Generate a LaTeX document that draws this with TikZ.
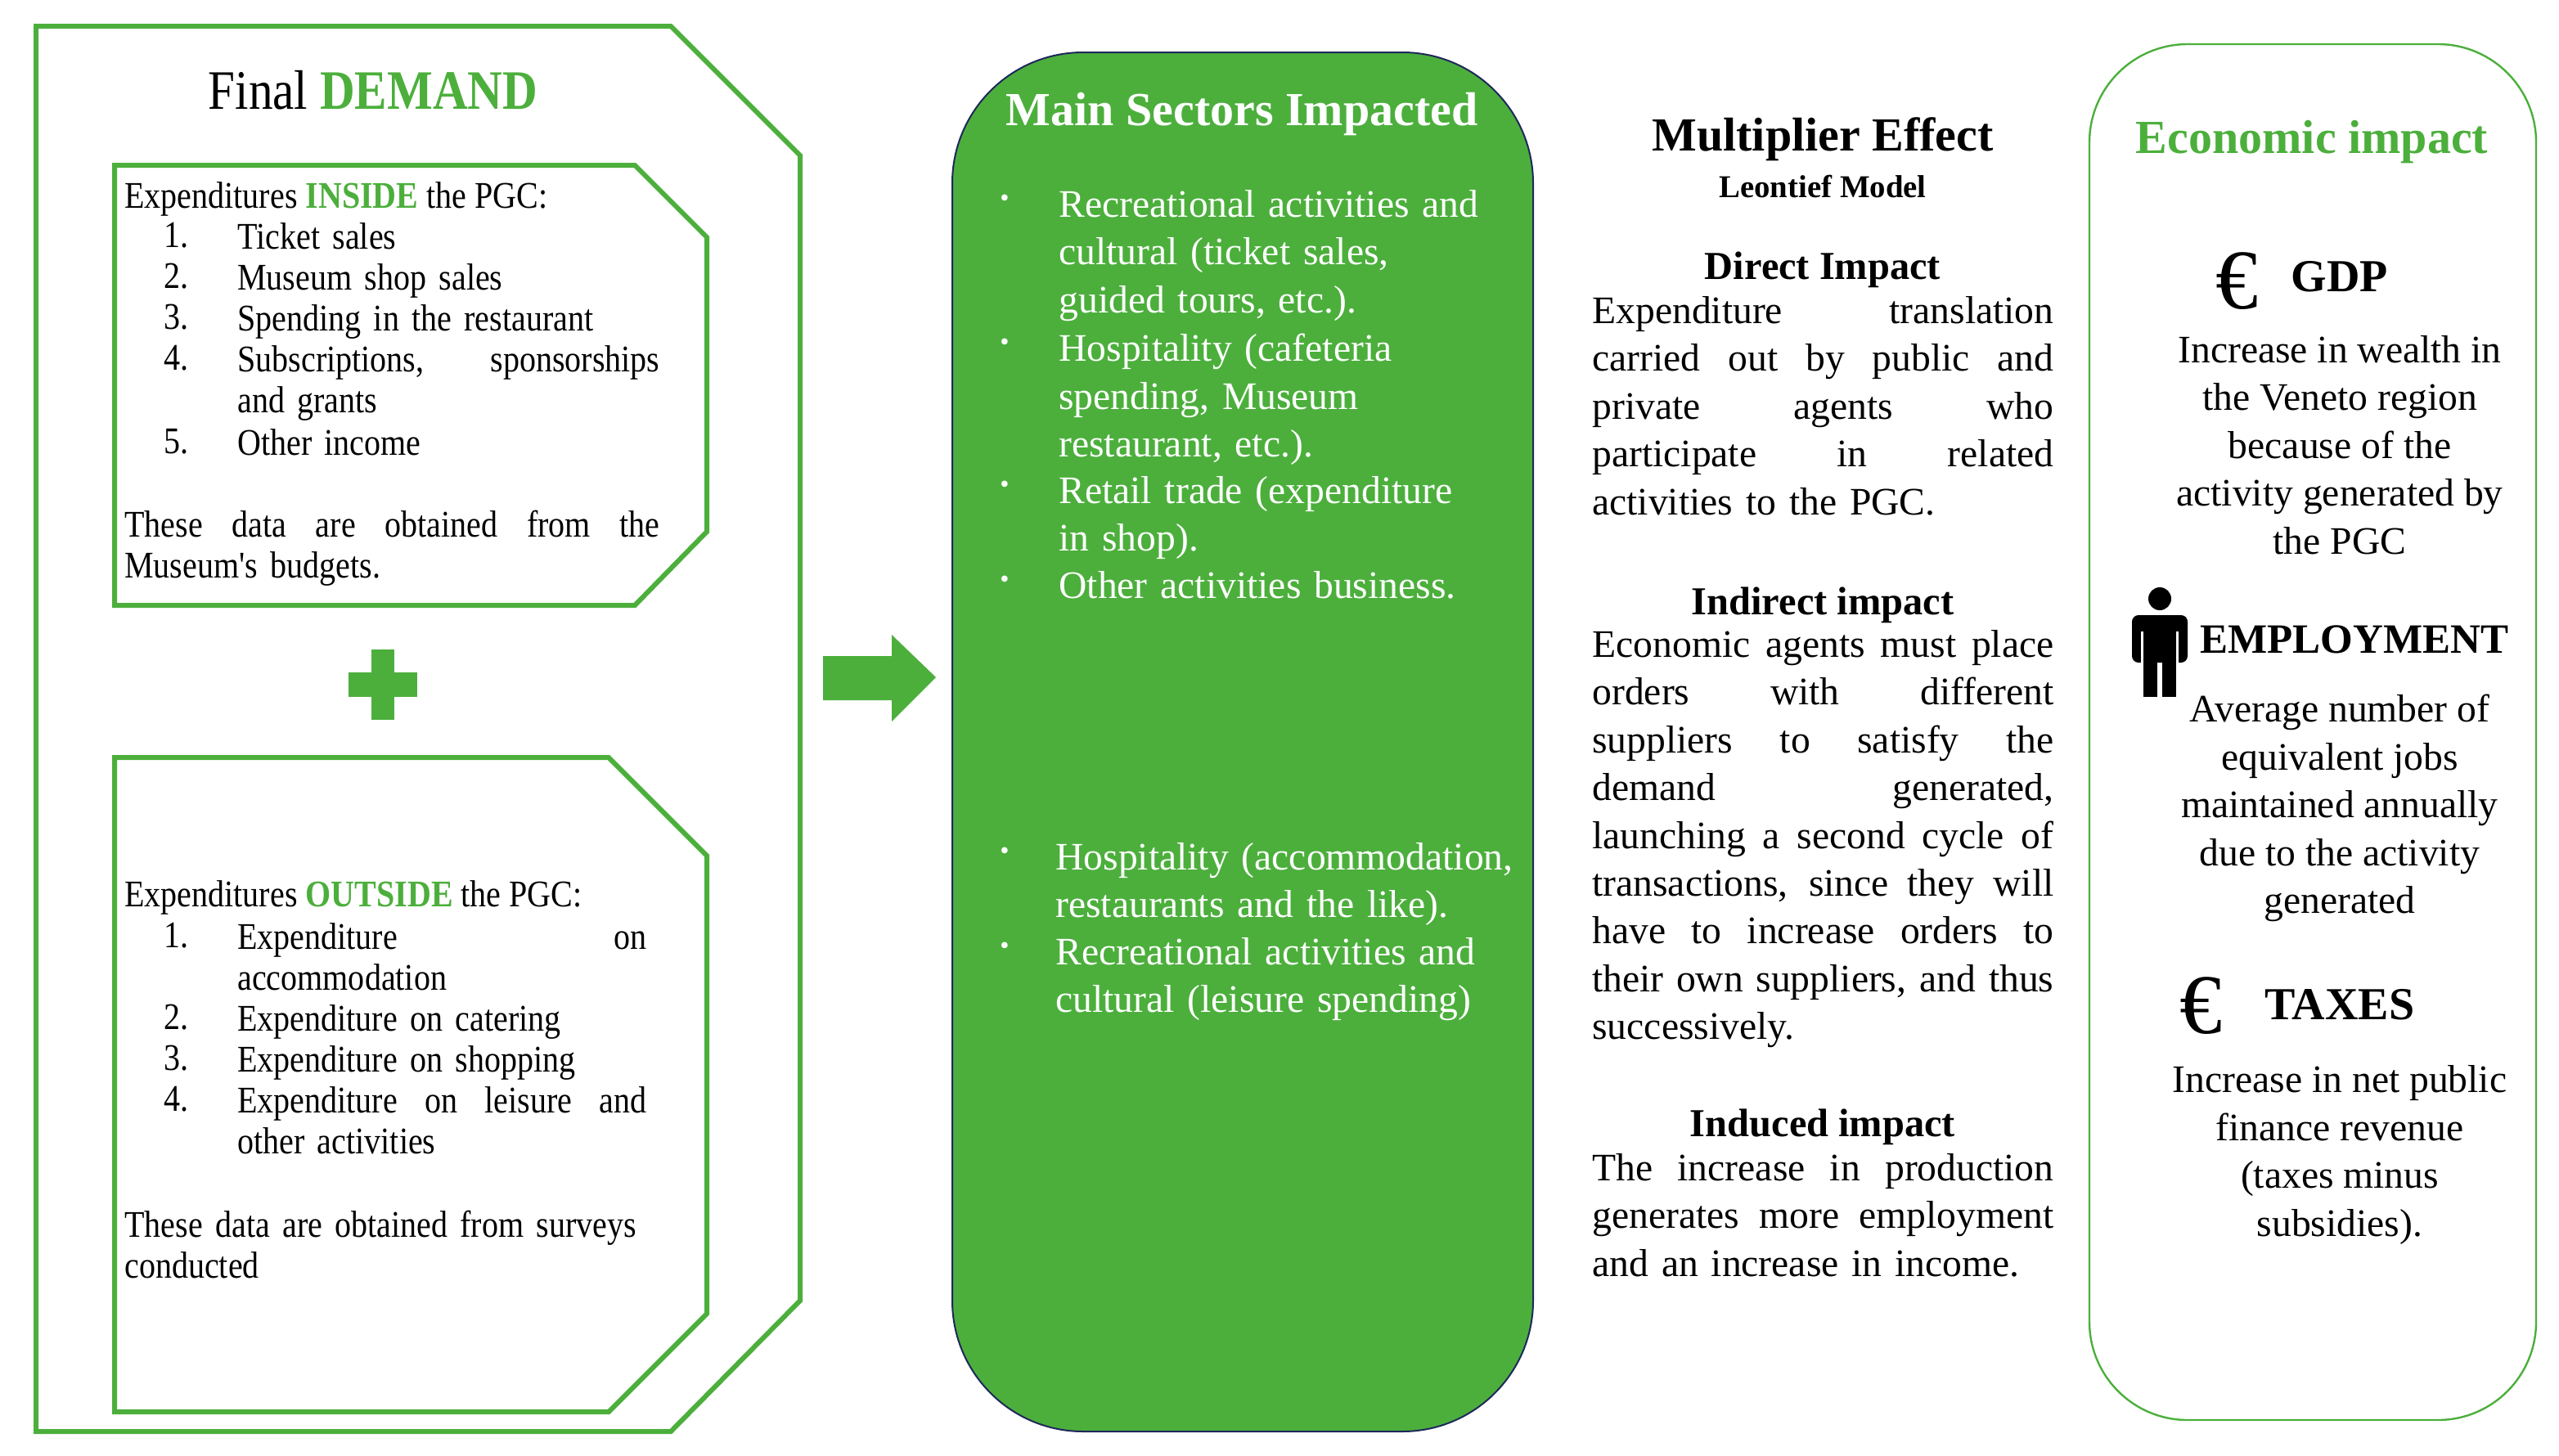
\documentclass[tikz,border=0pt]{standalone}
\usepackage{fontspec}
\setmainfont{Liberation Serif}
\newfontfamily\condf[FakeStretch=0.87]{Liberation Serif}
\definecolor{gr}{RGB}{76,175,60}
\definecolor{navy}{RGB}{30,40,90}
\newcommand{\jw}[2]{{\spaceskip=0.25em plus 1fil\makebox[#1][s]{#2}}\\}
\newcommand{\jl}[1]{\jw{282pt}{#1}}
\tikzset{
 gl/.style={draw=gr,line width=3pt},
 body/.style={inner sep=0pt,anchor=north west,align=left,font=\fontsize{23.8}{29.2}\selectfont},
 lb/.style={inner sep=0pt,anchor=north west,align=left,font=\condf\fontsize{23}{25}\selectfont},
 wb/.style={inner sep=0pt,anchor=north west,align=left,text=white,font=\fontsize{23.8}{29.2}\selectfont,text width=290pt},
 ct/.style={inner sep=0pt,align=center,font=\fontsize{23.8}{29.2}\selectfont},
 hd/.style={inner sep=0pt,font=\bfseries\fontsize{24.2}{29}\selectfont},
}
\begin{document}
\begin{tikzpicture}[x=1pt,y=-1pt]
\useasboundingbox (0,0) rectangle (1564,889.5);
% left shapes
\draw[gl] (22,16) -- (410,16) -- (489,95) -- (489,795) -- (410,875) -- (22,875) -- cycle;
\draw[gl] (70,101) -- (388,101) -- (432,145) -- (432,325) -- (388,370) -- (70,370) -- cycle;
\draw[gl] (70,463) -- (372,463) -- (432,523) -- (432,803) -- (372,863) -- (70,863) -- cycle;
\fill[gr] (227,397) rectangle (241,440);
\fill[gr] (213,411) rectangle (255,426);
\node[inner sep=0pt,font=\condf\fontsize{34}{36}\selectfont] (fd) at (228,55) {Final \textcolor{gr}{\textbf{DEMAND}}};
\node[lb] (in) at (76,111) {Expenditures \textcolor{gr}{\textbf{INSIDE}} the PGC:};
\foreach \n/\t/\y in {1/Ticket sales/136,2/Museum shop sales/161,3/Spending in the restaurant/186,4/{Subscriptions,\hfill sponsorships\\and grants}/211,5/Other income/262}{
 \node[lb] (ni\n) at (100,\y) {\n.};
 \node[lb,text width=258pt] (ti\n) at (145,\y) {\t};
}
\node[lb,text width=327pt] (bud) at (76,312) {\jw{327pt}{These data are obtained from the}Museum's budgets.};
\node[lb] (out) at (76,538) {Expenditures \textcolor{gr}{\textbf{OUTSIDE}} the PGC:};
\foreach \n/\t/\y in {1/{Expenditure\hfill on\\accommodation}/564,2/Expenditure on catering/614,3/Expenditure on shopping/639,4/{\jw{250pt}{Expenditure on leisure and}other activities}/664}{
 \node[lb] (no\n) at (100,\y) {\n.};
 \node[lb,text width=250pt] (to\n) at (145,\y) {\t};
}
\node[lb,text width=327pt] (sur) at (76,740) {These data are obtained from surveys\\conducted};
% arrow
\fill[gr] (503,401) -- (545,401) -- (545,388) -- (572,414) -- (545,441) -- (545,428) -- (503,428) -- cycle;
% middle
\draw[fill=gr,draw=navy,line width=1pt,rounded corners=80pt] (582,32) rectangle (937,875);
\node[inner sep=0pt,text=white,font=\bfseries\fontsize{29}{32}\selectfont] (ms) at (759,70) {Main Sectors Impacted};
\foreach \y in {116,204,291,349,515,573}{
 \node[wb,font=\fontsize{16}{29.2}\selectfont] at (611,\y+3) {\textbullet};
}
\node[wb] (b1) at (647,116) {Recreational activities and\\cultural (ticket sales,\\guided tours, etc.).};
\node[wb] (b2) at (647,204) {Hospitality (cafeteria\\spending, Museum\\restaurant, etc.).};
\node[wb] (b3) at (647,291) {Retail trade (expenditure\\in shop).};
\node[wb] (b4) at (647,349) {Other activities business.};
\node[wb] (b5) at (645,515) {Hospitality (accommodation,\\restaurants and the like).};
\node[wb] (b6) at (645,573) {Recreational activities and\\cultural (leisure spending)};
% multiplier
\node[inner sep=0pt,font=\bfseries\fontsize{29}{32}\selectfont] (me) at (1114,85) {Multiplier Effect};
\node[inner sep=0pt,font=\bfseries\fontsize{19.4}{20}\selectfont] (lm) at (1114,114) {Leontief Model};
\node[hd] (di) at (1114,165) {Direct Impact};
\node[body,text width=282pt] (dt) at (973,181) {\jl{Expenditure translation}\jl{carried out by public and}\jl{private agents who}\jl{participate in related}activities to the PGC.};
\node[hd] (ii) at (1114,370) {Indirect impact};
\node[body,text width=282pt] (it) at (973,385) {\jl{Economic agents must place}\jl{orders with different}\jl{suppliers to satisfy the}\jl{demand generated,}\jl{launching a second cycle of}\jl{transactions, since they will}\jl{have to increase orders to}\jl{their own suppliers, and thus}successively.};
\node[hd] (nd) at (1114,689) {Induced impact};
\node[body,text width=282pt] (nt) at (973,705) {\jl{The increase in production}\jl{generates more employment}and an increase in income.};
% right
\draw[draw=gr,line width=1.2pt,rounded corners=60pt] (1277,27) rectangle (1550,868);
\node[inner sep=0pt,text=gr,font=\bfseries\fontsize{29}{32}\selectfont] (ei) at (1413,87) {Economic impact};
\node[inner sep=0pt,font=\fontsize{52}{52}\selectfont] (e1) at (1367,172) {€};
\node[inner sep=0pt,font=\bfseries\fontsize{28}{30}\selectfont] (gdp) at (1430,169) {GDP};
\node[ct] (gt) at (1430,272) {Increase in wealth in\\the Veneto region\\because of the\\activity generated by\\the PGC};
% person icon
\fill (1320,366) circle (7);
\fill[rounded corners=4pt] (1303,376) rectangle (1337,405);
\fill (1310,398) rectangle (1318.5,426);
\fill (1321.5,398) rectangle (1330,426);
\fill[white] (1308.5,386) rectangle (1310,406);
\fill[white] (1330,386) rectangle (1331.5,406);
\node[inner sep=0pt,font=\bfseries\fontsize{25.5}{27}\selectfont] (emp) at (1439,391) {EMPLOYMENT};
\node[ct] (et) at (1430,494) {Average number of\\equivalent jobs\\maintained annually\\due to the activity\\generated};
\node[inner sep=0pt,font=\fontsize{52}{52}\selectfont] (e2) at (1345,615) {€};
\node[inner sep=0pt,font=\bfseries\fontsize{28}{30}\selectfont] (tax) at (1430,614) {TAXES};
\node[ct] (tt) at (1430,706) {Increase in net public\\finance revenue\\(taxes minus\\subsidies).};
\end{tikzpicture}
\end{document}
